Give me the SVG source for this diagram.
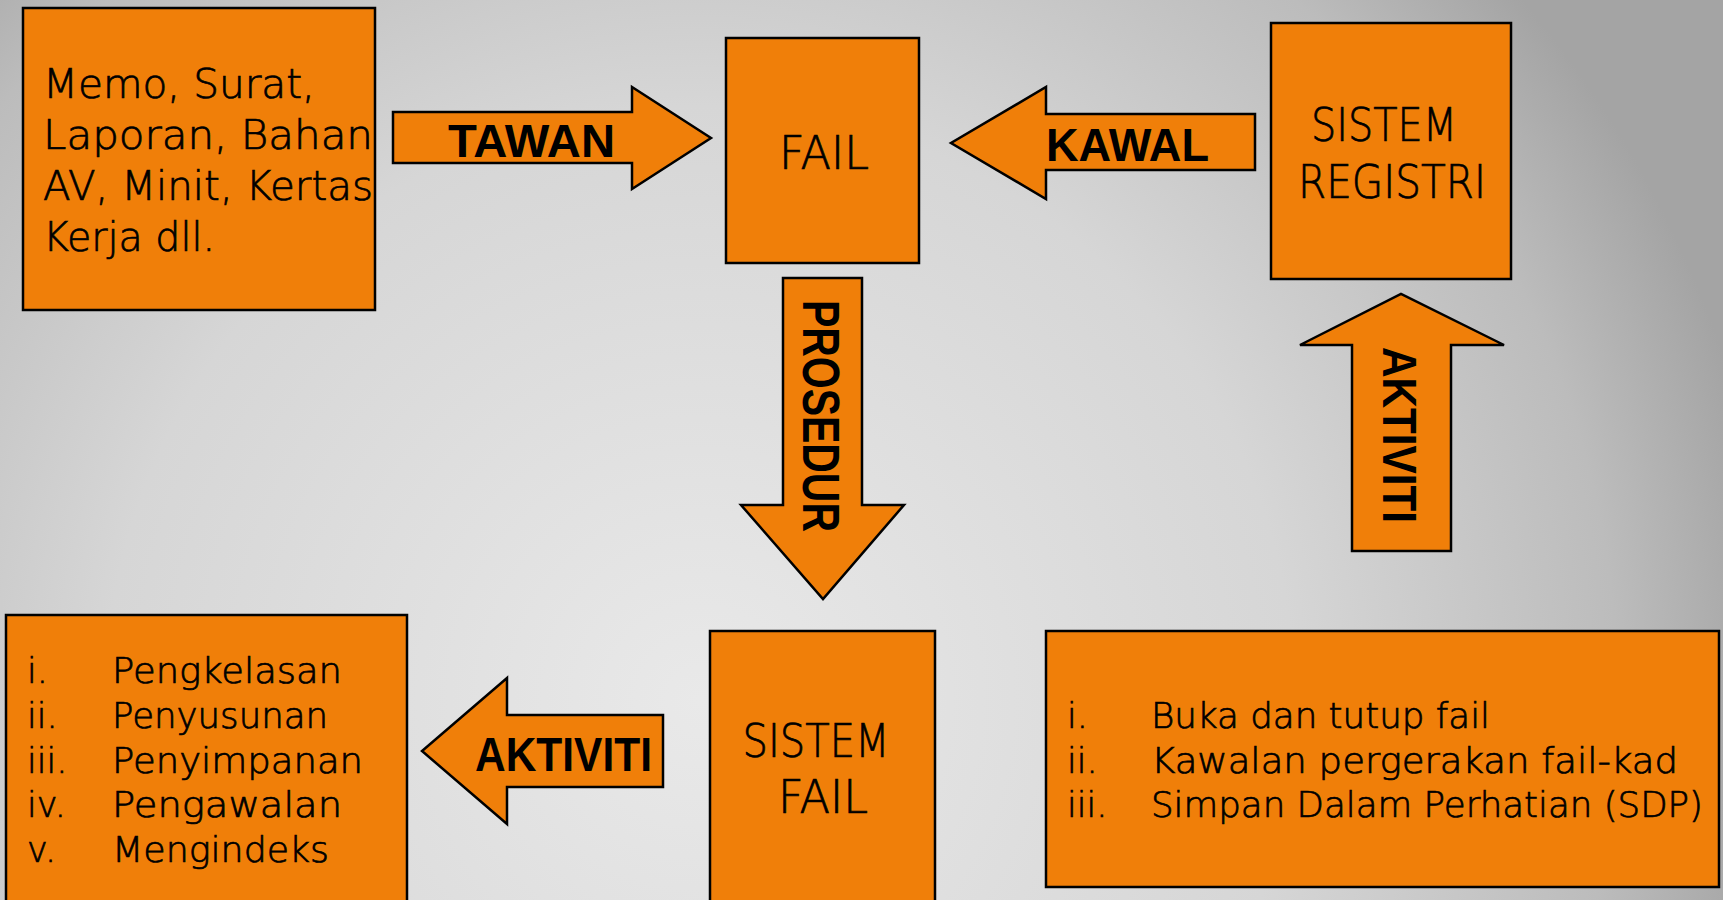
<svg xmlns="http://www.w3.org/2000/svg" width="1723" height="900" viewBox="0 0 1723 900">
<defs>
<radialGradient id="bg" gradientUnits="userSpaceOnUse" cx="700" cy="700" r="1080">
<stop offset="0" stop-color="#e9e9e9"/>
<stop offset="0.55" stop-color="#d6d6d6"/>
<stop offset="0.85" stop-color="#bcbcbc"/>
<stop offset="1" stop-color="#a4a4a4"/>
</radialGradient>
<style>
.box{fill:#f07f09;stroke:#000;stroke-width:2.5}
.arr{fill:#f07f09;stroke:#000;stroke-width:2.5;stroke-linejoin:miter}
.t{font-family:"DejaVu Sans","Liberation Sans",sans-serif;font-weight:200;fill:#000;stroke:#000;stroke-width:0.7}
.b{font-family:"Liberation Sans","DejaVu Sans",sans-serif;font-weight:bold;fill:#000}
</style>
</defs>
<rect x="0" y="0" width="1723" height="900" fill="url(#bg)"/>

<g id="connectors">
<g id="tawan">
<polygon class="arr" points="393,112 632,112 632,87 711,138 632,189 632,163 393,163"/>
<text class="b" x="448" y="157" font-size="46" textLength="167" lengthAdjust="spacingAndGlyphs">TAWAN</text>
</g>
<g id="kawal">
<polygon class="arr" points="1255,114 1046,114 1046,87 951,143 1046,199 1046,170 1255,170"/>
<text class="b" x="1046" y="161" font-size="46" textLength="163" lengthAdjust="spacingAndGlyphs">KAWAL</text>
</g>
<g id="prosedur">
<polygon class="arr" points="783,278 862,278 862,505 904,505 823,599 741,505 783,505"/>
<text class="b" transform="translate(803,416) rotate(90)" x="0" y="0" text-anchor="middle" font-size="51" textLength="232" lengthAdjust="spacingAndGlyphs">PROSEDUR</text>
</g>
<g id="aktiviti-up">
<polygon class="arr" points="1352,551 1352,345 1300,345 1401,294 1504,345 1451,345 1451,551"/>
<text class="b" transform="translate(1383,435) rotate(90)" x="0" y="0" text-anchor="middle" font-size="49" textLength="176" lengthAdjust="spacingAndGlyphs">AKTIVITI</text>
</g>
<g id="aktiviti-left">
<polygon class="arr" points="663,715 507,715 507,678 422,751 507,824 507,787 663,787"/>
<text class="b" x="475" y="771" font-size="48" textLength="177" lengthAdjust="spacingAndGlyphs">AKTIVITI</text>
</g>
</g>

<g id="memo">
<rect class="box" x="23" y="8" width="352" height="302"/>
<text class="t" font-size="40">
<tspan x="43" y="98" textLength="272" lengthAdjust="spacingAndGlyphs">Memo, Surat,</tspan>
<tspan x="43" y="149" textLength="330" lengthAdjust="spacingAndGlyphs">Laporan, Bahan</tspan>
<tspan x="43" y="200" textLength="330" lengthAdjust="spacingAndGlyphs">AV, Minit, Kertas</tspan>
<tspan x="43" y="251" textLength="172" lengthAdjust="spacingAndGlyphs">Kerja dll.</tspan>
</text>
</g>

<g id="fail">
<rect class="box" x="726" y="38" width="193" height="225"/>
<text class="t" x="824" y="169" font-size="46" text-anchor="middle" textLength="90" lengthAdjust="spacingAndGlyphs">FAIL</text>
</g>

<g id="sistem-registri">
<rect class="box" x="1271" y="23" width="240" height="256"/>
<text class="t" x="1384" y="141" font-size="47" text-anchor="middle" textLength="146" lengthAdjust="spacingAndGlyphs">SISTEM</text>
<text class="t" x="1392" y="198" font-size="47" text-anchor="middle" textLength="188" lengthAdjust="spacingAndGlyphs">REGISTRI</text>
</g>

<g id="aktiviti-list">
<rect class="box" x="6" y="615" width="401" height="300"/>
<text class="t" font-size="35">
<tspan x="27" y="683">i.</tspan><tspan x="112" y="683" textLength="230" lengthAdjust="spacingAndGlyphs">Pengkelasan</tspan>
<tspan x="27" y="728">ii.</tspan><tspan x="112" y="728" textLength="216" lengthAdjust="spacingAndGlyphs">Penyusunan</tspan>
<tspan x="27" y="773">iii.</tspan><tspan x="112" y="773" textLength="251" lengthAdjust="spacingAndGlyphs">Penyimpanan</tspan>
<tspan x="27" y="817">iv.</tspan><tspan x="112" y="817" textLength="230" lengthAdjust="spacingAndGlyphs">Pengawalan</tspan>
<tspan x="27" y="862">v.</tspan><tspan x="112" y="862" textLength="217" lengthAdjust="spacingAndGlyphs">Mengindeks</tspan>
</text>
</g>

<g id="sistem-fail">
<rect class="box" x="710" y="631" width="225" height="290"/>
<text class="t" x="816" y="757" font-size="47" text-anchor="middle" textLength="147" lengthAdjust="spacingAndGlyphs">SISTEM</text>
<text class="t" x="823" y="813" font-size="47" text-anchor="middle" textLength="90" lengthAdjust="spacingAndGlyphs">FAIL</text>
</g>

<g id="registri-list">
<rect class="box" x="1046" y="631" width="673" height="256"/>
<text class="t" font-size="35">
<tspan x="1067" y="728">i.</tspan><tspan x="1151" y="728" textLength="339" lengthAdjust="spacingAndGlyphs">Buka dan tutup fail</tspan>
<tspan x="1067" y="773">ii.</tspan><tspan x="1151" y="773" textLength="527" lengthAdjust="spacingAndGlyphs">Kawalan pergerakan fail-kad</tspan>
<tspan x="1067" y="817">iii.</tspan><tspan x="1151" y="817" textLength="552" lengthAdjust="spacingAndGlyphs">Simpan Dalam Perhatian (SDP)</tspan>
</text>
</g>
</svg>
